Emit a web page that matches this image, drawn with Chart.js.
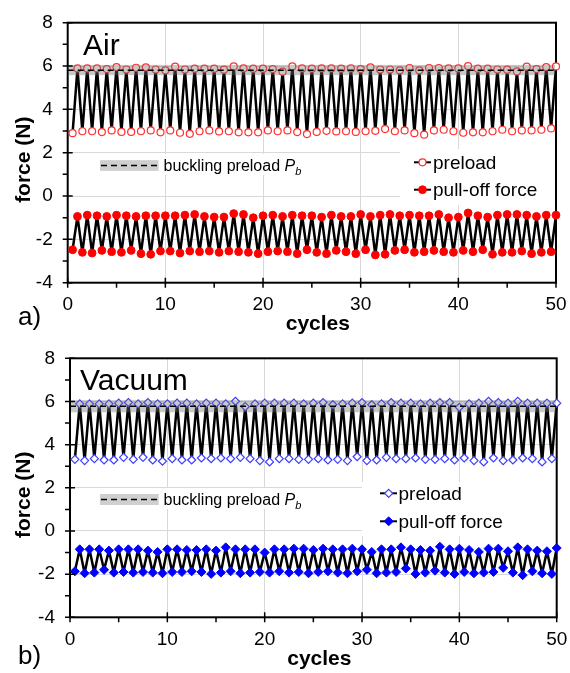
<!DOCTYPE html>
<html>
<head>
<meta charset="utf-8">
<script src="https://cdn.jsdelivr.net/npm/chart.js@4.4.1/dist/chart.umd.min.js"></script>
<style>
  html, body { margin: 0; padding: 0; background: #fff; }
  #wrap { position: relative; width: 570px; height: 673px; }
  .panel { position: absolute; left: 0; width: 570px; }
  canvas { display: block; }
</style>
</head>
<body>
<div id="wrap">
  <div class="panel" style="top:0;height:336px"><canvas id="airChart" width="570" height="336"></canvas></div>
  <div class="panel" style="top:336px;height:337px"><canvas id="vacChart" width="570" height="337"></canvas></div>
</div>
<script>
// ---- data ----
// preload / pull-off force per cycle; valleys sit at half cycles, peaks at whole cycles
var airPreloadPeak = [5.89,5.89,5.89,5.86,5.95,5.84,5.92,5.94,5.84,5.80,5.97,5.84,5.88,5.88,5.88,5.83,5.98,5.89,5.88,5.88,
  5.86,5.74,5.98,5.89,5.88,5.89,5.89,5.88,5.89,5.86,5.94,5.84,5.84,5.80,5.91,5.80,5.91,5.91,5.89,5.89,
  6.00,5.88,5.88,5.84,5.83,5.75,5.97,5.86,5.95,5.98]
var airPreloadValley = [2.90,2.99,2.99,2.95,3.03,2.96,2.96,2.99,3.03,2.94,3.03,2.92,2.87,2.99,3.03,2.98,2.99,2.94,2.94,2.94,
  3.03,2.99,3.03,2.95,2.86,2.96,3.01,2.98,2.99,2.96,2.99,3.01,3.09,2.99,3.03,2.90,2.83,3.03,3.06,2.99,
  2.92,2.94,2.94,2.99,3.06,2.99,3.03,3.03,3.06,3.12]
var airPullPeak = [-0.94,-0.88,-0.91,-0.94,-0.88,-0.91,-0.94,-0.91,-0.91,-0.91,-0.91,-0.88,-0.85,-0.94,-0.97,-0.97,-0.81,-0.85,-1.00,-0.91,
  -0.88,-0.94,-0.88,-0.91,-0.91,-0.97,-0.88,-0.94,-0.94,-0.85,-0.94,-0.88,-0.85,-0.91,-0.88,-0.91,-0.91,-0.85,-1.00,-0.97,
  -0.78,-0.91,-0.97,-0.88,-0.85,-0.85,-0.88,-0.94,-0.88,-0.88]
var airPullValley = [-2.48,-2.60,-2.63,-2.51,-2.57,-2.60,-2.51,-2.66,-2.69,-2.54,-2.54,-2.63,-2.54,-2.57,-2.54,-2.60,-2.54,-2.57,-2.60,-2.66,
  -2.57,-2.54,-2.57,-2.66,-2.48,-2.60,-2.66,-2.51,-2.57,-2.66,-2.48,-2.72,-2.69,-2.51,-2.48,-2.60,-2.57,-2.51,-2.57,-2.60,
  -2.51,-2.57,-2.48,-2.69,-2.60,-2.60,-2.54,-2.66,-2.60,-2.57]

var vacPreloadPeak = [5.89,5.89,5.89,5.89,5.92,5.95,5.89,5.95,5.89,5.89,5.92,5.92,5.89,5.92,5.92,5.89,6.01,5.76,5.89,5.92,
  5.92,5.92,5.92,5.89,5.92,5.95,5.85,5.89,5.92,5.95,5.85,5.89,5.95,5.92,5.92,5.89,5.92,5.95,5.95,5.73,
  5.89,5.92,6.01,5.95,5.92,6.01,5.92,5.92,5.92,5.92]
var vacPreloadValley = [3.32,3.26,3.35,3.29,3.29,3.41,3.32,3.41,3.29,3.23,3.35,3.29,3.29,3.38,3.35,3.38,3.35,3.41,3.35,3.26,
  3.20,3.35,3.35,3.32,3.32,3.35,3.29,3.32,3.26,3.44,3.26,3.29,3.41,3.35,3.35,3.38,3.32,3.32,3.35,3.29,
  3.38,3.26,3.20,3.38,3.26,3.29,3.38,3.35,3.20,3.35]
var vacPullPeak = [-0.85,-0.85,-0.85,-0.91,-0.85,-0.85,-0.85,-0.91,-0.97,-0.85,-0.85,-0.88,-0.88,-0.85,-0.91,-0.76,-0.85,-0.85,-0.85,-1.00,
  -0.85,-0.85,-0.82,-0.82,-0.88,-0.82,-0.85,-0.85,-0.82,-0.85,-0.97,-0.85,-0.85,-0.76,-0.85,-0.88,-0.91,-0.73,-0.85,-0.82,
  -0.88,-0.97,-0.82,-0.82,-0.94,-0.76,-0.85,-0.91,-0.94,-0.79]
var vacPullValley = [-1.87,-1.96,-1.93,-1.80,-1.93,-1.90,-1.93,-1.90,-1.93,-1.96,-1.90,-1.90,-1.87,-1.90,-1.99,-1.93,-1.87,-1.96,-1.93,-1.90,
  -1.93,-1.87,-1.93,-1.90,-1.96,-1.90,-1.87,-1.93,-1.96,-1.87,-1.80,-1.96,-1.93,-1.90,-1.74,-1.99,-1.93,-1.84,-1.93,-1.99,
  -1.90,-1.96,-1.93,-1.90,-1.71,-1.93,-2.05,-1.87,-1.96,-1.99]

// buckling preload P_b and its spread (grey band)
var airBuckling = 5.8
var airBucklingBand = [5.58, 6.05]
var vacBuckling = 5.78
var vacBucklingBand = [5.5, 6.06]

var xTickValues = [0, 10, 20, 30, 40, 50]
var xMinorValues = [5, 15, 25, 35, 45]
var yTickValues = [-4, -2, 0, 2, 4, 6, 8]
var yMinorValues = [-3, -1, 1, 3, 5, 7]

Chart.defaults.font.family = '"Liberation Sans", Arial, sans-serif'
Chart.defaults.color = '#000'
var FONT = '"Liberation Sans", Arial, sans-serif'

// valley at i+0.5, peak at i+1
function zigzag(valleys, peaks) {
  var pts = []
  for (var i = 0; i < peaks.length; i++) {
    pts.push({ x: i + 0.5, y: valleys[i] })
    pts.push({ x: i + 1, y: peaks[i] })
  }
  return pts
}

function drawMarker(ctx, ds, x, y) {
  var r = ds.pointRadius
  ctx.beginPath()
  if (ds.pointStyle === 'rectRot') {
    ctx.moveTo(x, y - r); ctx.lineTo(x + r, y); ctx.lineTo(x, y + r); ctx.lineTo(x - r, y); ctx.closePath()
  } else {
    ctx.arc(x, y, r, 0, Math.PI * 2)
  }
  ctx.fillStyle = ds.pointBackgroundColor
  ctx.fill()
  ctx.lineWidth = ds.pointBorderWidth
  ctx.strokeStyle = ds.pointBorderColor
  ctx.stroke()
}

var decor = {
  id: 'decor',
  beforeDatasetsDraw: function (chart, args, o) {
    var ctx = chart.ctx, a = chart.chartArea
    ctx.save()
    ctx.fillStyle = '#fff'
    ctx.fillRect.apply(ctx, o.buckMask)
    ctx.fillRect.apply(ctx, o.seriesMask)
    // frame
    ctx.strokeStyle = '#000'
    ctx.lineWidth = 2
    ctx.strokeRect(a.left, a.top, a.right - a.left, a.bottom - a.top)
    ctx.restore()
  },
  afterDatasetsDraw: function (chart, args, o) {
    var ctx = chart.ctx, a = chart.chartArea
    var xs = chart.scales.x, ys = chart.scales.y
    ctx.save()

    // buckling band + dashed P_b line
    var yHi = ys.getPixelForValue(o.band[1]), yLo = ys.getPixelForValue(o.band[0])
    ctx.fillStyle = 'rgba(110,110,110,0.38)'
    ctx.fillRect(a.left + 1, yHi, a.right - a.left - 2, yLo - yHi)
    ctx.strokeStyle = '#000'
    ctx.lineWidth = 1.5
    ctx.setLineDash([6, 4])
    ctx.beginPath()
    var yP = ys.getPixelForValue(o.pb)
    ctx.moveTo(a.left, yP); ctx.lineTo(a.right, yP)
    ctx.stroke()

    // buckling legend entry
    var k = o.buckKey
    ctx.setLineDash([])
    ctx.fillStyle = '#cfcfcf'
    ctx.fillRect(k.x, k.y - k.h / 2, k.w, k.h)
    ctx.setLineDash([6, 4])
    ctx.beginPath()
    ctx.moveTo(k.x + 1, k.y); ctx.lineTo(k.x + k.w, k.y)
    ctx.stroke()
    ctx.setLineDash([])
    ctx.fillStyle = '#000'
    ctx.textBaseline = 'alphabetic'
    ctx.textAlign = 'left'
    ctx.font = '16px ' + FONT
    var t = 'buckling preload '
    ctx.fillText(t, k.textX, k.base)
    var tx = k.textX + ctx.measureText(t).width
    ctx.font = 'italic 16px ' + FONT
    ctx.fillText('P', tx, k.base)
    tx += ctx.measureText('P').width
    ctx.font = 'italic 11px ' + FONT
    ctx.fillText('b', tx, k.base + 4)

    // series legend
    var s = o.seriesKey
    chart.data.datasets.forEach(function (ds, i) {
      var yy = s.rows[i]
      ctx.strokeStyle = '#000'
      ctx.lineWidth = 2
      ctx.beginPath()
      ctx.moveTo(s.x0, yy); ctx.lineTo(s.x1, yy)
      ctx.stroke()
      drawMarker(ctx, ds, s.mark, yy)
      ctx.fillStyle = '#000'
      ctx.font = '19px ' + FONT
      ctx.fillText(ds.label, s.textX, yy + 6.5)
    })

    // panel name and tag
    ctx.font = '30px ' + FONT
    ctx.fillText(o.name, o.nameAt[0], o.nameAt[1])
    ctx.font = '26px ' + FONT
    ctx.fillText(o.tag, o.tagAt[0], o.tagAt[1])

    // axis titles
    ctx.font = 'bold 21px ' + FONT
    ctx.textAlign = 'center'
    ctx.textBaseline = 'middle'
    ctx.fillText('cycles', (a.left + a.right) / 2 + 6, a.bottom + 41.5)
    ctx.save()
    ctx.translate(24, (a.top + a.bottom) / 2 + 7)
    ctx.rotate(-Math.PI / 2)
    ctx.fillText('force (N)', 0, 0)
    ctx.restore()

    // tick marks: majors cross the axis, minors outside only
    ctx.strokeStyle = '#000'
    ctx.lineWidth = 1.5
    ctx.beginPath()
    xTickValues.forEach(function (v) {
      var px = xs.getPixelForValue(v)
      ctx.moveTo(px, a.bottom - 5); ctx.lineTo(px, a.bottom + 5)
    })
    xMinorValues.forEach(function (v) {
      var px = xs.getPixelForValue(v)
      ctx.moveTo(px, a.bottom); ctx.lineTo(px, a.bottom + 5)
    })
    yTickValues.forEach(function (v) {
      var py = ys.getPixelForValue(v)
      ctx.moveTo(a.left - 5, py); ctx.lineTo(a.left + 5, py)
    })
    yMinorValues.forEach(function (v) {
      var py = ys.getPixelForValue(v)
      ctx.moveTo(a.left - 5, py); ctx.lineTo(a.left, py)
    })
    ctx.stroke()
    ctx.restore()
  }
}

function makePanel(canvasId, sets, box, deco) {
  var ctx = document.getElementById(canvasId).getContext('2d')
  var H = ctx.canvas.height, W = ctx.canvas.width
  return new Chart(ctx, {
    type: 'line',
    data: { datasets: sets },
    options: {
      responsive: false,
      animation: false,
      events: [],
      layout: { padding: { left: 0, top: box.top, right: W - box.right, bottom: 0 } },
      plugins: { legend: { display: false }, tooltip: { enabled: false }, decor: deco },
      scales: {
        x: {
          type: 'linear', min: 0, max: 50,
          afterBuildTicks: function (s) { s.ticks = xTickValues.map(function (v) { return { value: v } }) },
          afterFit: function (s) { s.height = H - box.bottom; s.paddingLeft = 0; s.paddingRight = 0 },
          ticks: { font: { size: 19 }, color: '#000', padding: 11, maxRotation: 0, autoSkip: false },
          grid: { color: '#d9d9d9', lineWidth: 1, drawTicks: false },
          border: { display: false }
        },
        y: {
          type: 'linear', min: -4, max: 8,
          afterBuildTicks: function (s) { s.ticks = yTickValues.map(function (v) { return { value: v } }) },
          afterFit: function (s) { s.width = box.left; s.paddingTop = 0; s.paddingBottom = 0 },
          ticks: { font: { size: 19 }, color: '#000', padding: 15, autoSkip: false },
          grid: { color: '#d9d9d9', lineWidth: 1, drawTicks: false },
          border: { display: false }
        }
      }
    },
    plugins: [decor]
  })
}

function series(label, valleys, peaks, style) {
  return Object.assign({
    label: label,
    data: zigzag(valleys, peaks),
    borderColor: '#000',
    borderWidth: 2.5,
    borderJoinStyle: 'round',
    tension: 0,
    clip: false,
    fill: false
  }, style)
}

var redOpen = { pointStyle: 'circle', pointRadius: 3.5, pointBorderWidth: 1.2, pointBorderColor: '#ff3030', pointBackgroundColor: '#fff' }
var redFull = { pointStyle: 'circle', pointRadius: 3.9, pointBorderWidth: 1, pointBorderColor: '#ff0000', pointBackgroundColor: '#ff0000' }
var blueOpen = { pointStyle: 'rectRot', pointRadius: 4, pointBorderWidth: 1.2, pointBorderColor: '#3c3cff', pointBackgroundColor: '#fff' }
var blueFull = { pointStyle: 'rectRot', pointRadius: 4.5, pointBorderWidth: 1, pointBorderColor: '#0000ff', pointBackgroundColor: '#0000ff' }

makePanel('airChart', [
  series('preload', airPreloadValley, airPreloadPeak, redOpen),
  series('pull-off force', airPullValley, airPullPeak, redFull)
], { left: 67.7, top: 22.7, right: 556, bottom: 282.7 }, {
  name: 'Air', tag: 'a)', nameAt: [83, 55], tagAt: [18, 325],
  pb: airBuckling, band: airBucklingBand,
  buckKey: { x: 100, y: 165.5, w: 58.5, h: 10.7, textX: 163.5, base: 170.7 },
  buckMask: [95, 154, 215, 21],
  seriesKey: { x0: 414, x1: 431, mark: 422.5, textX: 433, rows: [162.3, 189.7] },
  seriesMask: [400, 149, 155, 56]
})

makePanel('vacChart', [
  series('preload', vacPreloadValley, vacPreloadPeak, blueOpen),
  series('pull-off force', vacPullValley, vacPullPeak, blueFull)
], { left: 70, top: 22.3, right: 556.7, bottom: 281.3 }, {
  name: 'Vacuum', tag: 'b)', nameAt: [80, 54], tagAt: [18, 328],
  pb: vacBuckling, band: vacBucklingBand,
  buckKey: { x: 100, y: 163.5, w: 58.7, h: 11, textX: 163.5, base: 169 },
  buckMask: [95, 152, 215, 21],
  seriesKey: { x0: 380, x1: 397, mark: 388.7, textX: 398.5, rows: [157.3, 185.3] },
  seriesMask: [362, 146, 194, 54]
})
</script>
</body>
</html>
